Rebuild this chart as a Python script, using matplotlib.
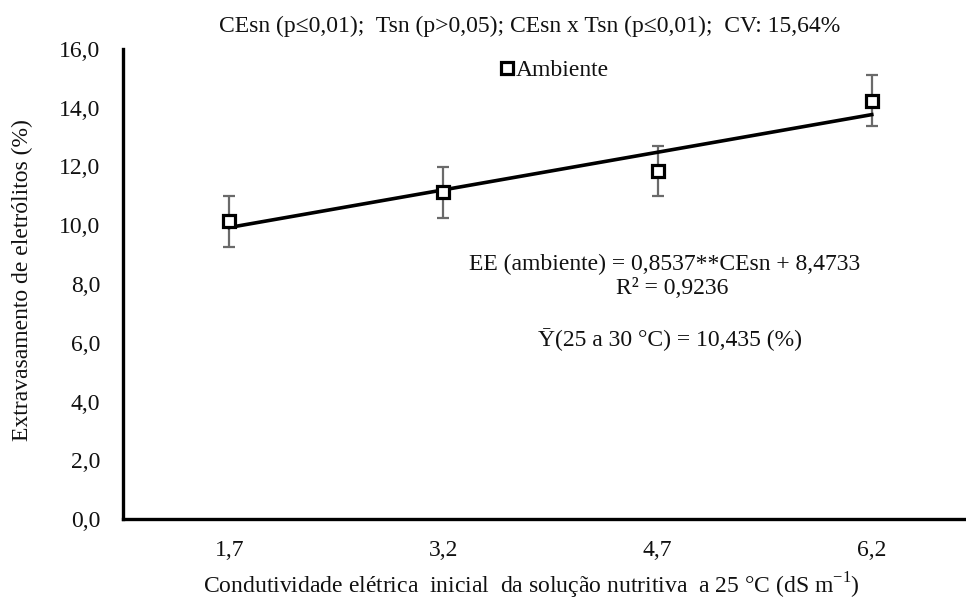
import numpy as np
import matplotlib
matplotlib.use('Agg')
import matplotlib.pyplot as plt

plt.rcParams['font.family'] = ['Liberation Serif', 'DejaVu Serif']
plt.rcParams['mathtext.fontset'] = 'custom'
plt.rcParams['mathtext.rm'] = 'Liberation Serif'

# data
ce_sn = [1.7, 3.2, 4.7, 6.2]
tick_labels = ['1,7', '3,2', '4,7', '6,2']
ee_ambiente = [10.14, 11.12, 11.84, 14.24]
ee_err = [0.87, 0.87, 0.85, 0.87]

# regression EE = 0,8537*CEsn + 8,4733
slope = 0.8537
intercept = 8.4733

y_ticks = [0, 2, 4, 6, 8, 10, 12, 14, 16]

FS = 17
TXT = '#111111'

fig = plt.figure(figsize=(9.66, 6.01), dpi=100)
ax = fig.add_axes([123/966, 1 - 519/601, 1 - 123/966, (519 - 49)/601])

# error bars
ax.errorbar(ce_sn, ee_ambiente, yerr=ee_err, fmt='none', ecolor='#6a6a6a',
            elinewidth=1.6, capsize=4.3, capthick=1.6, zorder=2)

# trend line
xl = np.array([ce_sn[0], ce_sn[-1]])
ax.plot(xl, slope * xl + intercept, color='black', lw=2.6, zorder=3)

ax.plot(ce_sn, ee_ambiente, linestyle='none', marker='s', ms=9, mew=2.3,
        mec='black', mfc='white', zorder=4, label='Ambiente')

ax.set_xlim(0.955, 6.86)
ax.set_ylim(0, 16)
ax.set_xticks(ce_sn)
ax.set_xticklabels(tick_labels)
ax.set_yticks(y_ticks)
ax.set_yticklabels([f'{v:.1f}'.replace('.', ',') for v in y_ticks])
ax.tick_params(axis='both', length=0, labelsize=FS, colors=TXT)
ax.tick_params(axis='y', pad=16.5)
ax.tick_params(axis='x', pad=15)

for s in ['top', 'right']:
    ax.spines[s].set_visible(False)
for s in ['left', 'bottom']:
    ax.spines[s].set_linewidth(2.4)
    ax.spines[s].set_color('black')

fig.text(22/966, 1 - 280/601, 'Extravasamento de eletrólitos (%)', rotation=90,
         ha='center', va='center', fontsize=FS, color=TXT)
fig.text(531/966, 1 - 586/601,
         'Condutividade elétrica  inicial  da solução nutritiva  a 25 °C (dS m$^{\\mathregular{-1}}$)',
         ha='center', va='center', fontsize=FS, color=TXT)

fig.text(530/966, 1 - 26/601,
         'CEsn (p≤0,01);  Tsn (p>0,05); CEsn x Tsn (p≤0,01);  CV: 15,64%',
         ha='center', va='center', fontsize=FS, color=TXT)

leg = ax.legend(loc='center', bbox_to_anchor=(555/966, 1 - 70/601),
                bbox_transform=fig.transFigure, frameon=False, fontsize=FS,
                handlelength=0.5, handletextpad=0.15, borderpad=0)
for t in leg.get_texts():
    t.set_color(TXT)

fig.text(665/966, 1 - 264/601, 'EE (ambiente) = 0,8537**CEsn + 8,4733',
         ha='center', va='center', fontsize=FS, color=TXT)
fig.text(672/966, 1 - 289/601, 'R² = 0,9236',
         ha='center', va='center', fontsize=FS, color=TXT)
fig.text(670/966, 1 - 340/601, 'Ȳ(25 a 30 °C) = 10,435 (%)',
         ha='center', va='center', fontsize=FS, color=TXT)

fig.savefig('out.png', dpi=100)
